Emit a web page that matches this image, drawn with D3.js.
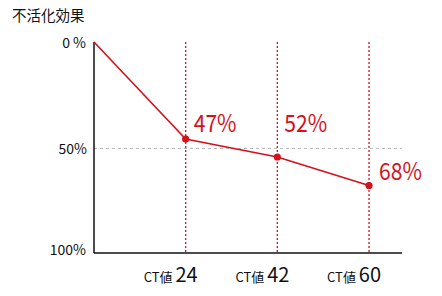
<!DOCTYPE html>
<html>
<head>
<meta charset="utf-8">
<script src="https://cdn.jsdelivr.net/npm/d3@7"></script>
<style>
  body { margin: 0; background: #fff; }
  text { font-family: "Noto Sans CJK JP", "Noto Sans", sans-serif; }
</style>
</head>
<body>
<svg width="442" height="296"></svg>
<script>
// データ（点の位置は図から読み取った値、ラベルは図中の表記）
const categories = ["", "24", "42", "60"];
const values = [0, 46, 54.5, 68];
const valueLabels = ["", "47%", "52%", "68%"];
const yTicks = [0, 50, 100];
const yTickLabels = ["0 %", "50%", "100%"];

const red = "#d4121d";
const svg = d3.select("svg");

const x = d3.scaleLinear().domain([0, 3.36]).range([94, 402]);
const y = d3.scaleLinear().domain([0, 100]).range([42, 253]);

// タイトル
svg.append("text").attr("x", 12).attr("y", 21)
  .attr("font-size", 14.5).attr("fill", "#111").text("不活化効果");

// 50% の点線
svg.append("line")
  .attr("x1", x(0)).attr("x2", x(3.36))
  .attr("y1", y(50) + 0.5).attr("y2", y(50) + 0.5)
  .attr("stroke", "#bbb").attr("stroke-dasharray", "3,3")
  .attr("shape-rendering", "crispEdges");

// 縦の赤い点線
svg.selectAll(".vline")
  .data(categories.slice(1))
  .enter().append("line")
  .attr("x1", (d, i) => x(i + 1))
  .attr("x2", (d, i) => x(i + 1))
  .attr("y1", y(0)).attr("y2", y(100))
  .attr("stroke", red).attr("stroke-width", 1.3).attr("stroke-dasharray", "2,2");

// 軸
svg.append("line").attr("x1", x(0)).attr("x2", x(0)).attr("y1", y(0)).attr("y2", y(100))
  .attr("stroke", "#111").attr("stroke-width", 1.5);
svg.append("line").attr("x1", x(0)).attr("x2", x(3.36)).attr("y1", y(100)).attr("y2", y(100))
  .attr("stroke", "#111").attr("stroke-width", 1.5);

// y 目盛りラベル
svg.selectAll(".ytick")
  .data(yTicks)
  .enter().append("text")
  .attr("x", (d, i) => i === 1 ? 87 : 86)
  .attr("y", (d, i) => y(d) + (i === 2 ? 2 : 6))
  .attr("text-anchor", "end")
  .attr("font-size", 14).attr("fill", "#111")
  .text((d, i) => yTickLabels[i]);

// 折れ線
const line = d3.line().x((d, i) => x(i)).y(d => y(d));
svg.append("path").datum(values)
  .attr("d", line).attr("fill", "none")
  .attr("stroke", red).attr("stroke-width", 1.6);

svg.selectAll(".dot")
  .data(values.slice(1))
  .enter().append("circle")
  .attr("cx", (d, i) => x(i + 1)).attr("cy", d => y(d))
  .attr("r", 3.6).attr("fill", red);

// 値ラベル
const labelOffsets = [[8, -7], [7, -25], [10, -5]];
svg.selectAll(".vlabel")
  .data(values.slice(1))
  .enter().append("text")
  .attr("transform", (d, i) =>
    `translate(${x(i + 1) + labelOffsets[i][0]},${y(d) + labelOffsets[i][1]}) scale(0.88,1)`)
  .attr("font-size", 24).attr("fill", red)
  .text((d, i) => valueLabels[i + 1]);

// x 目盛りラベル
const xl = svg.selectAll(".xlabel")
  .data(categories.slice(1))
  .enter().append("text")
  .attr("x", (d, i) => x(i + 1) + 12)
  .attr("y", 282)
  .attr("text-anchor", "end")
  .attr("fill", "#111");
xl.append("tspan").attr("font-size", 13).text("CT値 ");
xl.append("tspan").attr("font-size", 20).text(d => d);
</script>
</body>
</html>
